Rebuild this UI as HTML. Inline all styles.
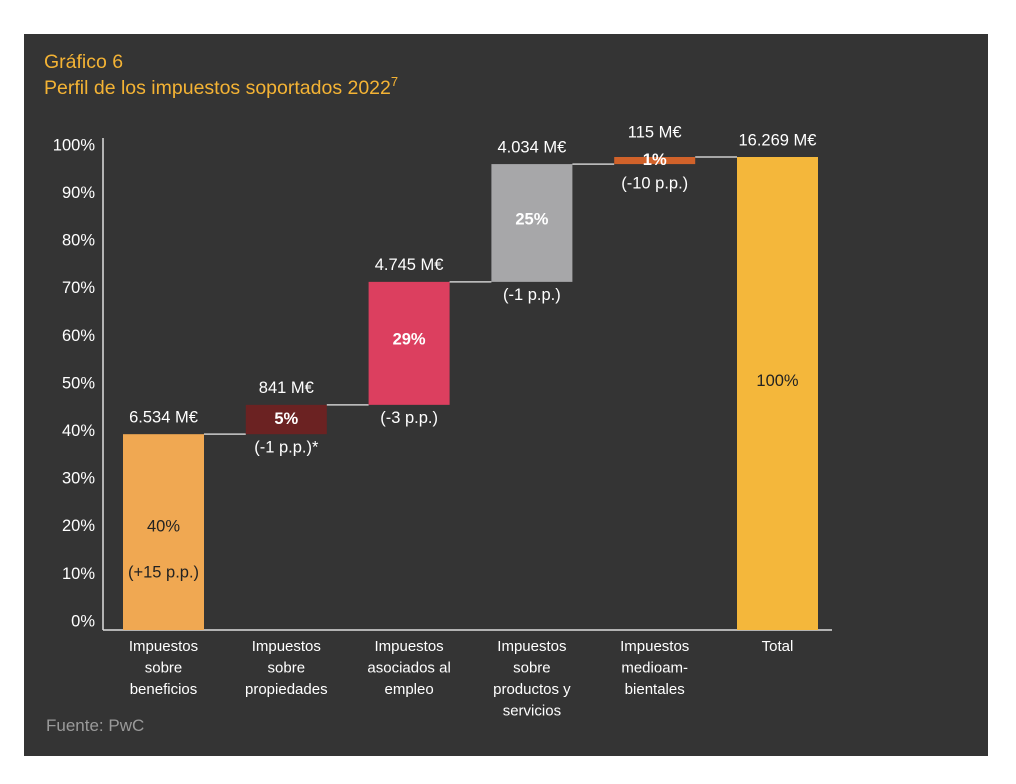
<!DOCTYPE html>
<html><head><meta charset="utf-8">
<style>
body{margin:0;background:#fff;width:1016px;height:784px;overflow:hidden;font-family:"Liberation Sans",Arial,sans-serif}
svg{position:absolute;left:0;top:0}
</style></head>
<body>
<svg id="c" width="1016" height="784">
<rect x="24" y="34" width="964" height="722" fill="#343434"/>
<text x="44" y="68" fill="#f4b334" font-size="19.5">Gráfico 6</text>
<text x="44" y="94" fill="#f4b334" font-size="19.5">Perfil de los impuestos soportados 2022<tspan font-size="13" dy="-8">7</tspan></text>
<text x="46" y="731" fill="#9a9a9a" font-size="17">Fuente: PwC</text>
<g id="plot"></g>
</svg>
<script>
const categories=[["Impuestos","sobre","beneficios"],["Impuestos","sobre","propiedades"],["Impuestos","asociados al","empleo"],["Impuestos","sobre","productos y","servicios"],["Impuestos","medioam-","bientales"],["Total"]];
const shares=[41.4,6.2,26,24.9,1.5];
const amounts=["6.534 M€","841 M€","4.745 M€","4.034 M€","115 M€","16.269 M€"];
const pctLabels=["40%","5%","29%","25%","1%","100%"];
const changes=["(+15 p.p.)","(-1 p.p.)*","(-3 p.p.)","(-1 p.p.)","(-10 p.p.)",""];
const yTicks=[0,10,20,30,40,50,60,70,80,90,100];
const colors=["#f0a852","#6b2222","#dc3f5f","#a7a7a9","#d1622a","#f4b73b"];
const NS="http://www.w3.org/2000/svg";
const g=document.getElementById('plot');
const y0=630,yTop=157;
const y=v=>y0-v/100*(y0-yTop);
const tickY=v=>622-v/100*(622-146);
const bx=i=>123+i*122.8, bw=81;
function el(t,a){const e=document.createElementNS(NS,t);for(const k in a)e.setAttribute(k,a[k]);g.appendChild(e);return e;}
function txt(x,yy,s,o){const e=el('text',Object.assign({x:x,y:yy,fill:'#fff','font-size':16.5,'text-anchor':'middle','dominant-baseline':'middle'},o||{}));e.textContent=s;return e;}
let a=el('line',{x1:103,y1:138,x2:103,y2:630,stroke:'#ddd','stroke-width':1.5});

a=el('line',{x1:103,y1:630,x2:832,y2:630,stroke:'#ddd','stroke-width':1.5});

yTicks.forEach(v=>{const t=txt(95,tickY(v),v+'%',{'text-anchor':'end'});
});
let cum=0;
const total=shares.reduce((s,v)=>s+v,0);
for(let i=0;i<6;i++){
  let lo,hi;
  if(i<5){lo=cum;hi=cum+shares[i];cum=hi;}else{lo=0;hi=total;}
  const x=bx(i);
  const r=el('rect',{x:x,y:y(hi),width:bw,height:y(lo)-y(hi),fill:colors[i]});
  
  if(i<5){const l=el('line',{x1:x+bw,y1:y(hi),x2:bx(i+1),y2:y(hi),stroke:'#ccc','stroke-width':1.5});
    }
  const cx=x+bw/2;
  let t=txt(cx,y(hi)-(i==4?24:16),amounts[i]);
  const dark=(i==0||i==5);
  const mid=(y(lo)+y(hi))/2;
  let py,cy;
  if(i==0){py=mid-5;cy=py+46;}
  else if(i==1){py=mid;cy=y(lo)+14;}
  else if(i==4){py=mid;cy=y(lo)+20;}
  else if(i==5){py=mid-12;}
  else{py=mid-3;cy=y(lo)+14;}
  t=txt(cx,py,pctLabels[i],{fill:dark?'#222':'#fff','font-weight':dark?'normal':'bold'});
  
  if(changes[i]){t=txt(cx,cy,changes[i],{fill:i==0?'#222':'#fff'});
    }
  categories[i].forEach((s,j)=>{const c=txt(cx,647+j*21.5,s,{'font-size':15});
    });
}
</script>
</body></html>
